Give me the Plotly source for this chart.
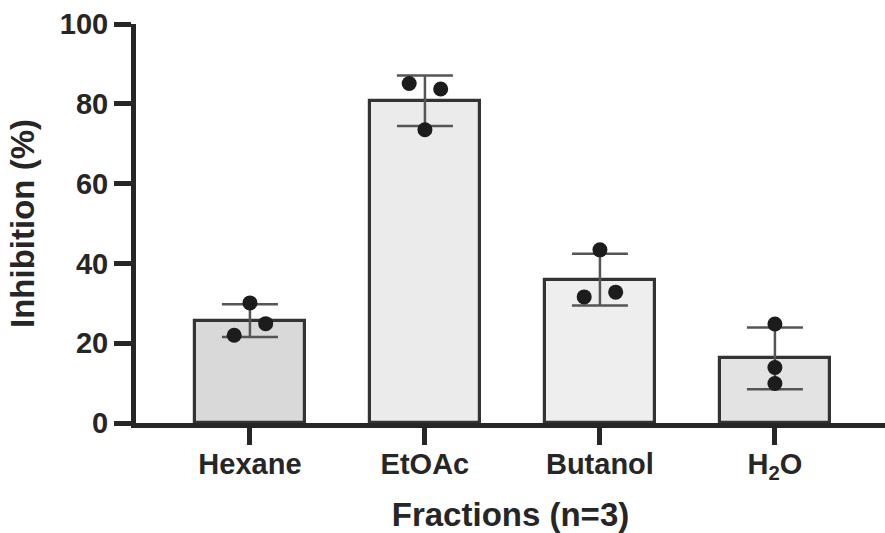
import numpy as np
import plotly.graph_objects as go

# Fractions tested and their replicate inhibition readings (%)
fractions = ["Hexane", "EtOAc", "Butanol", "H<sub>2</sub>O"]
hexane = [30.1, 24.9, 22.0]
etoac = [85.1, 83.7, 73.5]
butanol = [43.4, 31.6, 32.8]
water = [24.8, 13.9, 9.9]
bar_fills = ["#d9d9d9", "#ebebeb", "#eeeeee", "#e3e3e3"]

# horizontal spread of replicate dots around each bar centre (category units)
jitter = [[0.0, 0.09, -0.09], [-0.09, 0.09, 0.0], [0.0, -0.09, 0.09], [0.0, 0.0, 0.0]]

replicates = [hexane, etoac, butanol, water]
means = [float(np.mean(r)) for r in replicates]
sds = [float(np.std(r, ddof=1)) for r in replicates]
xpos = list(range(len(fractions)))

font_family = "Liberation Sans, Arial, Helvetica, sans-serif"
ink = "#262626"
tick_font = dict(size=29, weight="bold", family=font_family, color=ink)
title_font = dict(size=33, weight="bold", family=font_family, color=ink)

fig = go.Figure()
fig.add_trace(go.Bar(
    x=xpos, y=means, width=0.63,
    marker=dict(color=bar_fills, line=dict(color="#333333", width=3.2)),
    error_y=dict(type="data", array=sds, visible=True, color="#555555",
                 thickness=2.5, width=28),
    showlegend=False, hoverinfo="skip",
))

dot_x, dot_y = [], []
for i, (vals, jit) in enumerate(zip(replicates, jitter)):
    for v, j in zip(vals, jit):
        dot_x.append(i + j)
        dot_y.append(v)
fig.add_trace(go.Scatter(
    x=dot_x, y=dot_y, mode="markers",
    marker=dict(size=15, color="#1c1c1c"),
    showlegend=False, hoverinfo="skip",
))

fig.update_layout(
    width=885, height=533,
    margin=dict(l=136, r=0, t=24, b=110),
    plot_bgcolor="white", paper_bgcolor="white",
    font=dict(family=font_family, color=ink),
    bargap=0,
)
fig.update_xaxes(
    range=[-0.651, 3.629],
    tickmode="array", tickvals=xpos, ticktext=fractions,
    showline=True, linecolor=ink, linewidth=5,
    ticks="outside", ticklen=17, tickwidth=5, tickcolor=ink,
    tickfont=tick_font, ticklabelstandoff=-6,
    showgrid=False, zeroline=False,
    title=dict(text="Fractions (n=3)", font=title_font, standoff=22),
)
fig.update_yaxes(
    range=[0, 100], tickvals=[0, 20, 40, 60, 80, 100],
    showline=True, linecolor=ink, linewidth=5,
    ticks="outside", ticklen=17, tickwidth=5, tickcolor=ink,
    tickfont=tick_font,
    showgrid=False, zeroline=False,
    title=dict(text="Inhibition (%)", font=title_font, standoff=17),
)

fig.write_html("out.html")
